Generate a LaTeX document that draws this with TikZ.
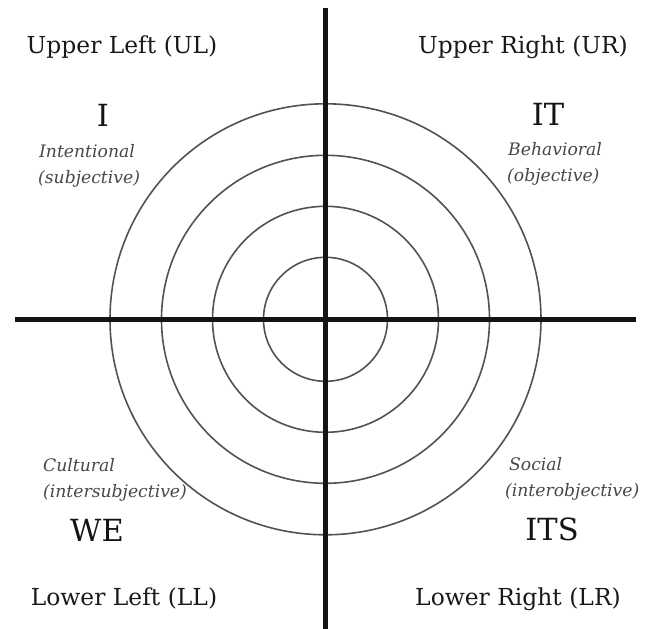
\documentclass[tikz,border=0pt]{standalone}
\usepackage{fontspec}
\setmainfont{DejaVu Serif}
\begin{document}
\begin{tikzpicture}[x=1pt,y=-1pt,
  axis/.style={line width=5pt,black!92},
  ring/.style={line width=1.6pt,black!68},
  quad/.style={inner sep=0pt,anchor=base,text=black!90,font=\fontsize{23.4}{28}\selectfont},
  big/.style={inner sep=0pt,anchor=base,text=black!92,font=\fontsize{30.5}{36}\selectfont},
  desc/.style={inner sep=0pt,anchor=base west,text=black!72,font=\fontsize{17.2}{21}\selectfont\itshape}]
\useasboundingbox (0,0) rectangle (654,629);
\coordinate (c) at (325.5,319.3);
\coordinate (top) at (325.5,8);
\coordinate (bot) at (325.5,629);
\coordinate (lft) at (14.5,319.3);
\coordinate (rgt) at (636,319.3);
\foreach \r in {62,113,164,215.5} \draw[ring] (c) circle[radius=\r];
\draw[axis] (top) -- (bot);
\draw[axis] (lft) -- (rgt);
\node[quad] (ul) at (122,53) {Upper Left (UL)};
\node[quad] (ur) at (523,53) {Upper Right (UR)};
\node[quad] (ll) at (124,605) {Lower Left (LL)};
\node[quad] (lr) at (518,605) {Lower Right (LR)};
\node[big] (i) at (103,126) {I};
\node[big] (it) at (548,125) {IT};
\node[big] (we) at (97,541) {WE};
\node[big] (its) at (552,540) {ITS};
\node[desc] (int) at (39,157) {Intentional};
\node[desc] (subj) at (38,183) {(subjective)};
\node[desc] (beh) at (508,155) {Behavioral};
\node[desc] (obj) at (507,181) {(objective)};
\node[desc] (cul) at (43,471) {Cultural};
\node[desc] (isub) at (43,497) {(intersubjective)};
\node[desc] (soc) at (509,470) {Social};
\node[desc] (iobj) at (505,496) {(interobjective)};
\end{tikzpicture}
\end{document}
